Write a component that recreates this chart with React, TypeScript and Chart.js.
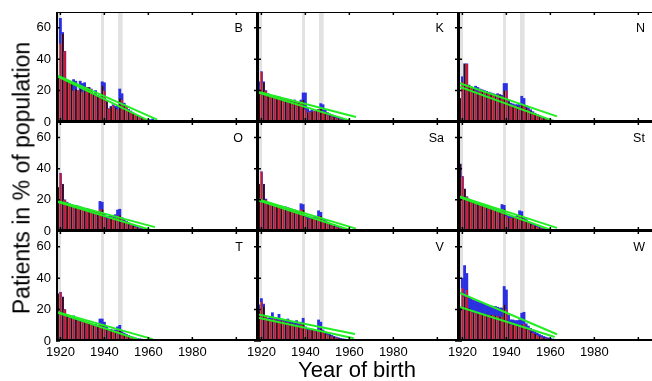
import React, { useEffect, useRef } from 'react';
import { Chart, registerables } from 'chart.js';

Chart.register(...registerables);

const YEARS = [
  1918, 1919, 1920, 1921, 1922, 1923, 1924, 1925, 1926, 1927,
  1928, 1929, 1930, 1931, 1932, 1933, 1934, 1935, 1936, 1937,
  1938, 1939, 1940, 1941, 1942, 1943, 1944, 1945, 1946, 1947,
  1948, 1949, 1950, 1951, 1952, 1953, 1954, 1955, 1956, 1957,
  1958, 1959, 1960, 1961, 1962, 1963, 1964, 1965, 1966, 1967,
  1968, 1969, 1970, 1971, 1972, 1973, 1974, 1975, 1976, 1977,
  1978, 1979, 1980, 1981, 1982, 1983, 1984, 1985, 1986, 1987,
  1988, 1989, 1990,
];

// shared small tail 1967-1990
const TAIL = [0.4, 0.35, 0.35, 0.3, 0.3, 0.3, 0.3, 0.25, 0.25, 0.25, 0.2, 0.2, 0.2, 0.2, 0.15, 0.15, 0.15, 0.15, 0.1, 0.1, 0.1, 0.1, 0.1, 0.1];

const PANEL_NAMES = ['B', 'K', 'N', 'O', 'Sa', 'St', 'T', 'V', 'W'];

const B_RED = [20, 28, 50, 56, 45, 26, 25, 25, 20, 21, 20, 21, 19, 21, 22, 22, 21, 18, 17, 17, 16, 23, 20, 13, 8.5, 9.6, 10.5, 9, 8, 15, 14, 11, 9.5, 7.5, 6.4, 5.3, 4.7, 3.8, 3.2, 2.6, 1.9, 1.5, 1.1, 1, 0.9, 0.8, 0.6, 0.5, 0.4];
const B_BLUE = [20, 28, 66, 57, 45, 26, 25, 25, 27, 26, 20, 26, 24.5, 25, 22, 22, 21, 18, 20, 17, 16.4, 25.6, 25, 13, 8.5, 10, 11, 10, 10, 21, 18, 12, 10, 8, 7, 5.8, 5, 4, 3.4, 2.8, 2.1, 1.7, 1.4, 1.5, 2, 1, 0.7, 0.6, 0.5];

const K_RED = [17, 19, 32, 25, 20, 18, 17, 16.5, 16, 16, 15.5, 15, 15, 14.5, 14, 13.5, 13, 13, 12.5, 12, 13, 14, 8, 6, 6.5, 6.5, 7, 7, 8, 9, 6.5, 5.5, 4.8, 4.2, 3.6, 3, 2.5, 2.1, 1.7, 1.4, 1.1, 0.9, 0.7, 0.6, 0.5, 0.5, 0.4, 0.4, 0.4];
const K_BLUE = [17, 25.6, 32, 25.6, 20, 18, 17, 17, 16.5, 16, 16, 15.5, 15, 15, 14.5, 14, 13.5, 14, 13, 12.5, 14, 18.5, 18.5, 9, 7, 7.5, 7, 7.5, 8, 11.7, 11, 7.5, 6, 5.2, 4.5, 3.9, 3.3, 2.8, 2.3, 1.9, 1.6, 1.3, 1, 0.8, 0.7, 0.6, 0.5, 0.4, 0.4];

const N_RED = [12, 15, 25.6, 37, 37, 23.5, 22.4, 21, 20, 19, 20, 20, 19.5, 19, 18, 18, 17.5, 17, 17.5, 17, 16, 20, 20, 12.8, 11, 10.5, 10.5, 10, 9.5, 11, 11, 9, 8, 7, 6, 5, 4.3, 3.6, 3, 2.5, 2, 1.6, 1.3, 1, 0.8, 0.7, 0.6, 0.5, 0.4];
const N_BLUE = [12, 15, 28.8, 37, 37, 23.5, 22.4, 21.5, 22.8, 22, 21, 20.5, 20, 19.5, 19, 18.5, 18, 17.5, 18, 17.5, 17, 24.5, 24.5, 14, 12, 11.5, 11, 11, 11, 16.4, 15, 10.5, 9, 7.8, 6.6, 5.6, 4.8, 4, 3.4, 2.8, 2.3, 1.9, 1.5, 1.2, 1, 0.8, 0.7, 0.6, 0.5];

const O_RED = [18, 28, 37, 30, 20, 18, 17, 16.5, 16, 16, 15, 15, 14.5, 14, 14, 13.5, 13, 12.5, 12, 12, 14, 14, 9, 8, 8, 8.5, 8.5, 8.5, 10, 10, 7.5, 6.5, 5.5, 4.7, 4, 3.3, 2.7, 2.2, 1.8, 1.4, 1.1, 0.9, 0.7, 0.6, 0.5, 0.5, 0.4, 0.4, 0.4];
const O_BLUE = [18, 28, 37, 30, 20, 18.5, 17.5, 17, 16.5, 16.5, 16, 15.5, 15, 14.5, 14.5, 14, 13.5, 13, 12.5, 12.5, 19, 18.5, 11, 9.5, 9.5, 10, 10, 10.5, 13.5, 14, 8.5, 7.3, 6.2, 5.3, 4.5, 3.7, 3, 2.5, 2, 1.6, 1.3, 1, 0.8, 0.7, 0.6, 0.5, 0.4, 0.4, 0.4];

const SA_RED = [22, 30, 38, 30, 20, 18, 17.5, 17, 16.5, 16, 16, 15.5, 15, 15, 14.5, 14, 13.5, 13, 12.5, 12, 14, 13.5, 9, 8, 8, 8, 8, 8, 9.5, 9.5, 7, 6, 5.2, 4.5, 3.8, 3.2, 2.6, 2.1, 1.7, 1.4, 1.1, 0.9, 0.7, 0.6, 0.5, 0.5, 0.4, 0.4, 0.4];
const SA_BLUE = [22, 30, 38, 30, 20.5, 18.5, 18, 17.5, 17, 16.5, 16.5, 16, 15.5, 15.5, 15, 14.5, 14, 13.5, 13, 12.5, 17.5, 17, 10, 9, 9, 9, 9, 9.5, 13, 12, 8, 6.8, 5.8, 5, 4.2, 3.5, 2.9, 2.3, 1.9, 1.5, 1.2, 1, 0.8, 0.7, 0.6, 0.5, 0.4, 0.4, 0.4];

const ST_RED = [25, 43, 35, 27, 22, 20, 19, 18.5, 18, 17.5, 17, 16.5, 16, 15.5, 15, 14.5, 14, 13.5, 13, 12.5, 14, 14, 9.5, 8.5, 8.5, 8.5, 8.5, 8.5, 10, 10, 7.5, 6.5, 5.5, 4.7, 4, 3.3, 2.7, 2.2, 1.8, 1.4, 1.1, 0.9, 0.7, 0.6, 0.5, 0.5, 0.4, 0.4, 0.4];
const ST_BLUE = [25, 43, 35, 27, 22, 20.5, 19.5, 19, 18.5, 18, 17.5, 17, 16.5, 16, 15.5, 15, 14.5, 14, 13.5, 13, 17, 16.5, 10.5, 9.5, 9.5, 9.5, 9.5, 10, 13, 12.5, 8.5, 7.3, 6.2, 5.3, 4.5, 3.7, 3, 2.5, 2, 1.6, 1.3, 1, 0.8, 0.7, 0.6, 0.5, 0.4, 0.4, 0.4];

const T_RED = [21, 30, 31, 28, 20, 16, 15, 14.5, 15, 14, 13, 12.5, 12.5, 12, 11.5, 11, 10.5, 10, 10, 9.5, 10.5, 10.5, 8, 7, 6.5, 6.5, 6, 6, 6.5, 7, 5, 4.3, 3.7, 3.1, 2.6, 2.2, 1.8, 1.5, 1.2, 1, 0.8, 0.7, 0.6, 0.5, 0.5, 0.4, 0.4, 0.4, 0.4];
const T_BLUE = [21, 30, 31, 28, 20, 16.5, 15.5, 15, 16, 15, 13.5, 13, 13, 12.5, 12, 11.5, 11, 10.5, 10.5, 10, 14, 14, 12, 9, 7.5, 7.5, 7, 7, 9, 10, 6, 5, 4.3, 3.6, 3, 2.5, 2.1, 1.7, 1.4, 1.2, 1, 0.8, 0.7, 0.6, 0.5, 0.5, 0.4, 0.4, 0.4];

const V_RED = [14, 19, 25, 22, 16, 14, 14, 13.5, 14, 13, 13, 13, 12.5, 12, 12, 11.5, 11, 11, 10.5, 10, 10.5, 11, 8, 7, 7, 7, 6.5, 6, 7, 8, 5.5, 4.8, 4.2, 3.6, 3.1, 2.6, 2.2, 1.8, 1.5, 1.2, 1, 0.8, 0.7, 0.6, 0.5, 0.5, 0.4, 0.4, 0.4];
const V_BLUE = [20, 23, 27, 23.5, 16, 14.5, 15.5, 18, 15, 14.5, 17, 14, 13.5, 13.5, 14, 12.5, 12, 11.5, 13, 11, 12, 14.5, 9, 8, 8, 7.5, 7, 6.5, 13.4, 12, 7, 5.8, 5, 4.3, 3.6, 3, 2.5, 2.1, 1.7, 1.4, 1.2, 1, 0.8, 0.7, 0.6, 0.5, 0.4, 0.4, 0.4];

const W_RED = [18, 21, 33.6, 28, 32.5, 21, 19, 18, 18, 17.5, 17.5, 17, 17, 17, 16.5, 16.5, 16.5, 16, 16, 15.5, 15.5, 23, 20, 12, 10.5, 10.5, 10, 10, 10, 10.5, 11, 8, 7, 6, 5.2, 4.4, 3.7, 3.1, 2.6, 2.1, 1.7, 1.4, 1.1, 0.9, 0.8, 0.7, 0.6, 0.5, 0.5];
const W_BLUE = [18, 21, 40, 48, 43, 28, 27, 26, 25.5, 25, 24.5, 24, 23.5, 23, 22.5, 22.5, 22, 22, 21.5, 21, 21, 34.7, 32.5, 16.6, 13.5, 13.4, 13, 13, 13.5, 17.7, 18.3, 11, 9.5, 8, 7, 6, 5, 4.2, 3.5, 2.9, 2.4, 2, 1.6, 1.3, 1.1, 0.9, 0.8, 0.7, 0.6];

// fitted lines: [xStart, yStart, xEnd, yEnd]
const B_FIT = [[1918, 30, 1964, 1.5], [1918, 29.5, 1961, 0.3]];
const K_FIT = [[1918, 19.5, 1963, 3.2], [1918, 19, 1961.5, 0.4]];
const N_FIT = [[1918, 25, 1963, 3.6], [1918, 22.8, 1962, 0.4]];
const O_FIT = [[1918, 19.5, 1963, 2.5], [1918, 19, 1962, 0.3]];
const SA_FIT = [[1918, 20.5, 1963, 1.5], [1918, 20, 1961, 0.3]];
const ST_FIT = [[1918, 22.5, 1963, 2], [1918, 22, 1961, 0.3]];
const T_FIT = [[1918, 18.7, 1962, 1.2], [1918, 18.3, 1957.5, 0]];
const V_FIT = [[1918, 17, 1962.5, 4.5], [1918, 14.9, 1962, 1.7]];
const W_FIT = [[1918, 31, 1963, 4.3], [1918, 22, 1962, 2.5]];

const PANEL_RED = [B_RED, K_RED, N_RED, O_RED, SA_RED, ST_RED, T_RED, V_RED, W_RED];
const PANEL_BLUE = [B_BLUE, K_BLUE, N_BLUE, O_BLUE, SA_BLUE, ST_BLUE, T_BLUE, V_BLUE, W_BLUE];
const PANEL_FIT = [B_FIT, K_FIT, N_FIT, O_FIT, SA_FIT, ST_FIT, T_FIT, V_FIT, W_FIT];

const X_TICKS = [1920, 1940, 1960, 1980, 2000];
const X_LABELS = [1920, 1940, 1960, 1980];
const Y_TICKS = [0, 20, 40, 60];
const BANDS = [[1918.3, 1920.3], [1938.5, 1939.8], [1946.2, 1948.3]];
const X_MIN = 1918;
const X_MAX = 2009.4;
const Y_MAX = 70;
const LABEL_X = 2003;

// layout (pixels)
const COL_LEFT = [56, 257, 458];
const ROW_TOP = [12, 122, 231];
const ROW_BOTTOM = [122, 231, 341];
const PLOT_W = 201;

const FONT = "'Liberation Sans', Arial, Helvetica, sans-serif";
const RED = '#d41230';
const DARK = '#40050c';
const GRAY = '#8a8a8a';
const BLUE = '#2b30e0';
const GREEN = '#22ee22';
const BAND = '#e2e2e2';

const decorPlugin = {
  id: 'decor',
  beforeDatasetsDraw(chart: any) {
    const { ctx, chartArea: a, scales } = chart;
    const x = scales.x;
    ctx.save();
    ctx.beginPath();
    ctx.rect(a.left, a.top, a.right - a.left, a.bottom - a.top);
    ctx.clip();
    ctx.fillStyle = BAND;
    BANDS.forEach(([x0, x1]) => {
      const p0 = x.getPixelForValue(x0);
      const p1 = x.getPixelForValue(x1);
      ctx.fillRect(p0, a.top, p1 - p0, a.bottom - a.top);
    });
    ctx.restore();
  },
  afterDraw(chart: any, _args: any, opts: any) {
    const { ctx, chartArea: a, scales } = chart;
    const x = scales.x;
    const y = scales.y;
    ctx.save();
    ctx.strokeStyle = '#000';
    ctx.lineWidth = 1;
    ctx.beginPath();
    ctx.moveTo(a.left, a.top + 0.5);
    ctx.lineTo(a.right, a.top + 0.5);
    ctx.moveTo(a.right - 0.5, a.top);
    ctx.lineTo(a.right - 0.5, a.bottom);
    ctx.stroke();
    ctx.lineWidth = 2;
    ctx.beginPath();
    ctx.moveTo(a.left + 1, a.top);
    ctx.lineTo(a.left + 1, a.bottom);
    ctx.moveTo(a.left, a.bottom - 1);
    ctx.lineTo(a.right, a.bottom - 1);
    ctx.stroke();
    ctx.lineWidth = 1.5;
    ctx.beginPath();
    X_TICKS.forEach((v) => {
      const p = x.getPixelForValue(v);
      ctx.moveTo(p, a.bottom);
      ctx.lineTo(p, a.bottom - 4);
      ctx.moveTo(p, a.top);
      ctx.lineTo(p, a.top + 3);
    });
    Y_TICKS.forEach((v) => {
      const p = y.getPixelForValue(v);
      ctx.moveTo(a.left, p);
      ctx.lineTo(a.left + 4, p);
      ctx.moveTo(a.right, p);
      ctx.lineTo(a.right - 3, p);
    });
    ctx.stroke();
    ctx.fillStyle = '#000';
    ctx.font = `12.5px ${FONT}`;
    ctx.textAlign = 'right';
    ctx.textBaseline = 'alphabetic';
    ctx.fillText(opts.label, x.getPixelForValue(LABEL_X), a.top + 20);
    ctx.restore();
  },
};

function Panel({ idx }: { idx: number }) {
  const ref = useRef<HTMLCanvasElement>(null);
  const c = idx % 3;
  const r = Math.floor(idx / 3);
  const padL = c === 0 ? 56 : 24;
  const padR = 4;
  const padT = 8;
  const padB = r === 2 ? 26 : 8;
  const plotH = ROW_BOTTOM[r] - ROW_TOP[r];
  const w = PLOT_W + padL + padR;
  const h = plotH + padT + padB;

  useEffect(() => {
    const red = PANEL_RED[idx].concat(TAIL);
    const blue = PANEL_BLUE[idx].concat(TAIL);
    const fits = PANEL_FIT[idx];
    const colors = YEARS.map((yr) => (yr > 1966 ? GRAY : yr % 2 === 0 ? RED : DARK));
    const showX = r === 2;
    const showY = c === 0;
    const chart = new Chart(ref.current as HTMLCanvasElement, {
      type: 'bar',
      data: {
        datasets: [
          ...fits.map((f) => ({
            type: 'line' as const,
            data: [{ x: f[0], y: f[1] }, { x: f[2], y: f[3] }],
            borderColor: GREEN,
            borderWidth: 2,
            pointRadius: 0,
            order: 0,
          })),
          {
            type: 'bar' as const,
            data: YEARS.map((yr, i) => ({ x: yr, y: red[i] })),
            backgroundColor: colors,
            borderColor: GRAY,
            borderWidth: { left: 0.7, right: 0, top: 0, bottom: 0 },
            borderSkipped: false,
            grouped: false,
            barPercentage: 1,
            categoryPercentage: 1,
            order: 1,
          },
          {
            type: 'bar' as const,
            data: YEARS.map((yr, i) => ({ x: yr, y: blue[i] })),
            backgroundColor: BLUE,
            borderWidth: 0,
            grouped: false,
            barPercentage: 1,
            categoryPercentage: 1,
            order: 2,
          },
        ],
      } as any,
      options: {
        animation: false,
        responsive: false,
        maintainAspectRatio: false,
        events: [],
        layout: {
          padding: { left: showY ? 0 : padL, right: padR, top: padT, bottom: showX ? 0 : padB },
        },
        plugins: {
          legend: { display: false },
          tooltip: { enabled: false },
          decor: { label: PANEL_NAMES[idx] },
        } as any,
        scales: {
          x: {
            type: 'linear',
            min: X_MIN,
            max: X_MAX,
            offset: false,
            display: showX,
            grid: { display: false, drawTicks: false, offset: false },
            border: { display: false },
            ticks: {
              color: '#000',
              font: { family: FONT, size: 13 },
              padding: 4,
              autoSkip: false,
              maxRotation: 0,
              minRotation: 0,
              callback: (v: any) => String(v),
            },
            afterBuildTicks: (s: any) => {
              s.ticks = X_LABELS.map((v) => ({ value: v }));
            },
            afterFit: (s: any) => {
              if (showX) s.height = padB;
              s.paddingLeft = 0;
              s.paddingRight = 0;
            },
          },
          y: {
            type: 'linear',
            min: 0,
            max: Y_MAX,
            display: showY,
            grid: { display: false, drawTicks: false },
            border: { display: false },
            ticks: {
              color: '#000',
              font: { family: FONT, size: 13 },
              padding: 5,
              callback: (v: any) => String(v),
            },
            afterBuildTicks: (s: any) => {
              s.ticks = Y_TICKS.map((v) => ({ value: v }));
            },
            afterFit: (s: any) => {
              if (showY) s.width = padL;
              s.paddingTop = 0;
              s.paddingBottom = 0;
            },
          },
        } as any,
      },
      plugins: [decorPlugin as any],
    });
    return () => chart.destroy();
  }, [idx]);

  return (
    <canvas
      ref={ref}
      width={w}
      height={h}
      style={{
        position: 'absolute',
        left: COL_LEFT[c] - padL,
        top: ROW_TOP[r] - padT,
        width: w,
        height: h,
      }}
    />
  );
}

export default function App() {
  useEffect(() => {
    document.body.style.margin = '0';
  }, []);
  return (
    <div
      style={{
        position: 'absolute',
        left: 0,
        top: 0,
        width: 652,
        height: 381,
        overflow: 'hidden',
        background: '#fff',
      }}
    >
      {PANEL_NAMES.map((_, i) => (
        <Panel key={i} idx={i} />
      ))}
      <div
        style={{
          position: 'absolute',
          left: 22,
          top: 178,
          transform: 'translate(-50%, -50%) rotate(-90deg)',
          whiteSpace: 'nowrap',
          font: `23px ${FONT}`,
          lineHeight: '23px',
          color: '#000',
        }}
      >
        Patients in % of population
      </div>
      <div
        style={{
          position: 'absolute',
          left: 357,
          top: 370,
          transform: 'translate(-50%, -50%)',
          whiteSpace: 'nowrap',
          font: `22px ${FONT}`,
          lineHeight: '22px',
          color: '#000',
        }}
      >
        Year of birth
      </div>
    </div>
  );
}
